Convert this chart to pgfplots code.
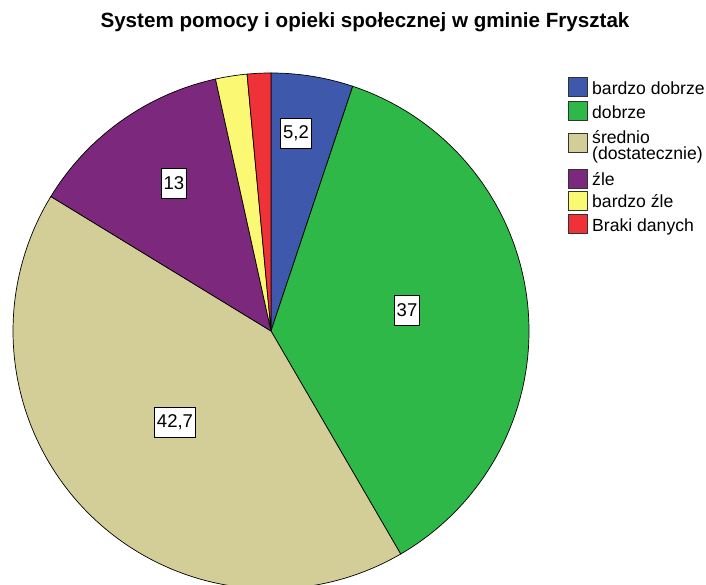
\documentclass[border=0pt]{standalone}
\usepackage{pgfplots}
\pgfplotsset{compat=1.18}
\usepackage{pgfplotstable}
\usepackage{fontspec}
\setmainfont{Liberation Sans}

\definecolor{slice0}{RGB}{62,88,172}
\definecolor{slice1}{RGB}{46,184,72}
\definecolor{slice2}{RGB}{211,206,151}
\definecolor{slice3}{RGB}{123,40,125}
\definecolor{slice4}{RGB}{251,248,115}
\definecolor{slice5}{RGB}{239,50,56}

% share of each category (slices drawn clockwise from 12 o'clock)
\pgfplotstableread{
value
5.2
37
42.7
13
2.0
1.5
}\piedata

\begin{document}
\begin{tikzpicture}[x=1bp,y=1bp]
\useasboundingbox (0,0) rectangle (706,585);
\begin{axis}[
  at={(0,0)}, anchor=south west,
  scale only axis, width=706bp, height=585bp,
  xmin=0, xmax=706, ymin=0, ymax=585,
  hide axis, clip=true,
]
% total
\gdef\pietotal{0}
\pgfplotsinvokeforeach{0,...,5}{%
  \pgfplotstablegetelem{#1}{value}\of\piedata
  \pgfmathsetmacro\tmp{\pietotal+\pgfplotsretval}%
  \xdef\pietotal{\tmp}%
}
\gdef\piecum{0}
\pgfplotsinvokeforeach{0,...,5}{%
  \pgfplotstablegetelem{#1}{value}\of\piedata
  \pgfmathsetmacro\angA{90-(\piecum+\pgfplotsretval)/\pietotal*360}%
  \pgfmathsetmacro\angB{90-\piecum/\pietotal*360}%
  \pgfmathsetmacro\tmp{\piecum+\pgfplotsretval}%
  \xdef\piecum{\tmp}%
  \edef\doplot{\noexpand\addplot[draw=black, line width=0.7bp, fill=slice#1, domain=\angA:\angB, samples=90, smooth]
     ({271+258*cos(x)},{254+258*sin(x)}) -- (axis cs:271,254) -- cycle;}%
  \doplot
}
\end{axis}

% value labels
\tikzset{vlab/.style={draw=black, line width=0.7bp, fill=white, inner xsep=2.5bp, inner ysep=0bp,
   minimum height=30bp, font=\fontsize{18.5bp}{20bp}\selectfont}}
\node[vlab] at (296,452) {5,2};
\node[vlab] at (407,275) {37};
\node[vlab] at (175,163) {42,7};
\node[vlab] at (174,402) {13};

% title
\node[font=\fontsize{20.6bp}{24bp}\selectfont\bfseries, anchor=base] at (365,557)
  {System pomocy i opieki społecznej w gminie Frysztak};

% legend
\tikzset{lsq/.style={draw=black!80, line width=0.6bp, minimum width=19bp, minimum height=19bp, inner sep=0pt},
         ltx/.style={anchor=base west, inner sep=0pt, font=\fontsize{17.6bp}{16bp}\selectfont}}
\node[lsq, fill=slice0] at (578,585-87) {};
\node[ltx] at (592,585-95) {bardzo dobrze};
\node[lsq, fill=slice1] at (578,585-111) {};
\node[ltx] at (592,585-119) {dobrze};
\node[lsq, fill=slice2] at (578,585-143) {};
\node[ltx] at (592,585-144) {średnio};
\node[ltx] at (592,585-160) {(dostatecznie)};
\node[lsq, fill=slice3] at (578,585-179) {};
\node[ltx] at (592,585-186) {źle};
\node[lsq, fill=slice4] at (578,585-201) {};
\node[ltx] at (592,585-208) {bardzo źle};
\node[lsq, fill=slice5] at (578,585-224) {};
\node[ltx] at (592,585-232) {Braki danych};
\end{tikzpicture}
\end{document}
